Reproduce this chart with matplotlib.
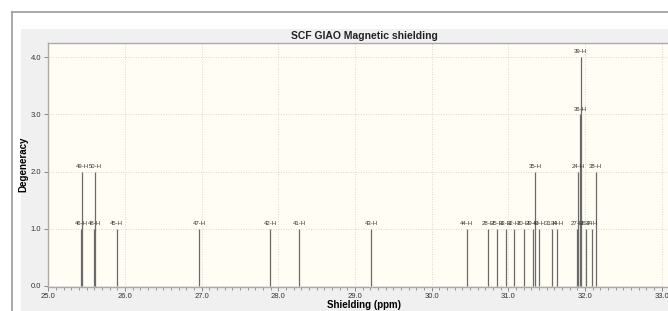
import matplotlib
matplotlib.use("Agg")
import matplotlib.pyplot as plt
from matplotlib.patches import Rectangle
from matplotlib.lines import Line2D

# peak data
atoms = ["46-H", "49-H", "48-H", "50-H", "45-H", "47-H", "42-H", "41-H", "43-H",
         "44-H", "28-H", "25-H", "33-H", "32-H", "30-H", "29-H", "35-H", "40-H",
         "31-H", "34-H", "27-H", "24-H", "36-H", "39-H", "26-H", "37-H", "38-H"]
shielding = [25.43, 25.445, 25.60, 25.615, 25.89, 26.97, 27.895, 28.27, 29.215,
             30.455, 30.74, 30.855, 30.965, 31.07, 31.20, 31.315, 31.345, 31.40,
             31.565, 31.635, 31.895, 31.91, 31.932, 31.942, 32.01, 32.085, 32.14]
degeneracy = [1, 2, 1, 2, 1, 1, 1, 1, 1,
              1, 1, 1, 1, 1, 1, 1, 2, 1,
              1, 1, 1, 2, 3, 4, 1, 1, 2]

W, H = 668, 311
fig = plt.figure(figsize=(W / 100, H / 100), dpi=100)
fig.patch.set_facecolor("white")

# outer frame and grey panel
fig.add_artist(Rectangle((21 / W, 0), 1.0, (H - 29) / H, transform=fig.transFigure,
                         facecolor="#f0f0f0", edgecolor="none", zorder=0))
fig.add_artist(Line2D([12 / W, 1.0], [(H - 11.5) / H] * 2, transform=fig.transFigure,
                      color="#999999", lw=1.2))
fig.add_artist(Line2D([12 / W] * 2, [0, (H - 11.5) / H], transform=fig.transFigure,
                      color="#999999", lw=1.2))

left, right, top, bottom = 48.3, 680, 43, 286.5
ax = fig.add_axes([left / W, (H - bottom) / H, (right - left) / W, (bottom - top) / H])
ax.set_facecolor("#fffdf4")

ax.vlines(shielding, 0, degeneracy, colors="#6a6a6a", lw=0.9)
for x, d, name in zip(shielding, degeneracy, atoms):
    ax.text(x, d + 0.05, name, ha="center", va="bottom", fontsize=4.3,
            family="Liberation Sans", color="#333333")

ax.set_xlim(25.0, 25.0 + (right - left) / 76.675)
ax.set_ylim(-0.01, 4.25)
ax.set_xticks([25, 26, 27, 28, 29, 30, 31, 32, 33])
ax.set_xticklabels(["%.1f" % v for v in [25, 26, 27, 28, 29, 30, 31, 32, 33]])
ax.set_xticks([25 + i * 0.1 for i in range(1, 81) if i % 10], minor=True)
ax.set_yticks([0, 1, 2, 3, 4])
ax.set_yticklabels(["0.0", "1.0", "2.0", "3.0", "4.0"])
ax.grid(True, which="major", color="#cccccc", ls=(0, (1, 2)), lw=0.6)
ax.tick_params(which="major", length=3, width=0.7, color="#888888", labelsize=5.5,
               labelcolor="#333333", pad=2)
ax.tick_params(which="minor", length=2, width=0.6, color="#888888")
for lab in ax.get_xticklabels() + ax.get_yticklabels():
    lab.set_family("Liberation Sans")
for s in ["left", "bottom", "top"]:
    ax.spines[s].set_color("#aaaaaa")
    ax.spines[s].set_linewidth(1.0)
ax.spines["right"].set_visible(False)

ax.set_xlabel("Shielding (ppm)", fontsize=7, fontweight="bold",
              family="Liberation Sans", labelpad=0)
ax.set_ylabel("Degeneracy", fontsize=7, fontweight="bold",
              family="Liberation Sans", labelpad=2)
fig.text((left + right) / 2 / W, (H - 36) / H, "SCF GIAO Magnetic shielding",
         ha="center", va="center", fontsize=7.5, fontweight="bold",
         family="Liberation Sans", color="#222222")

fig.savefig("out.png", dpi=100)
